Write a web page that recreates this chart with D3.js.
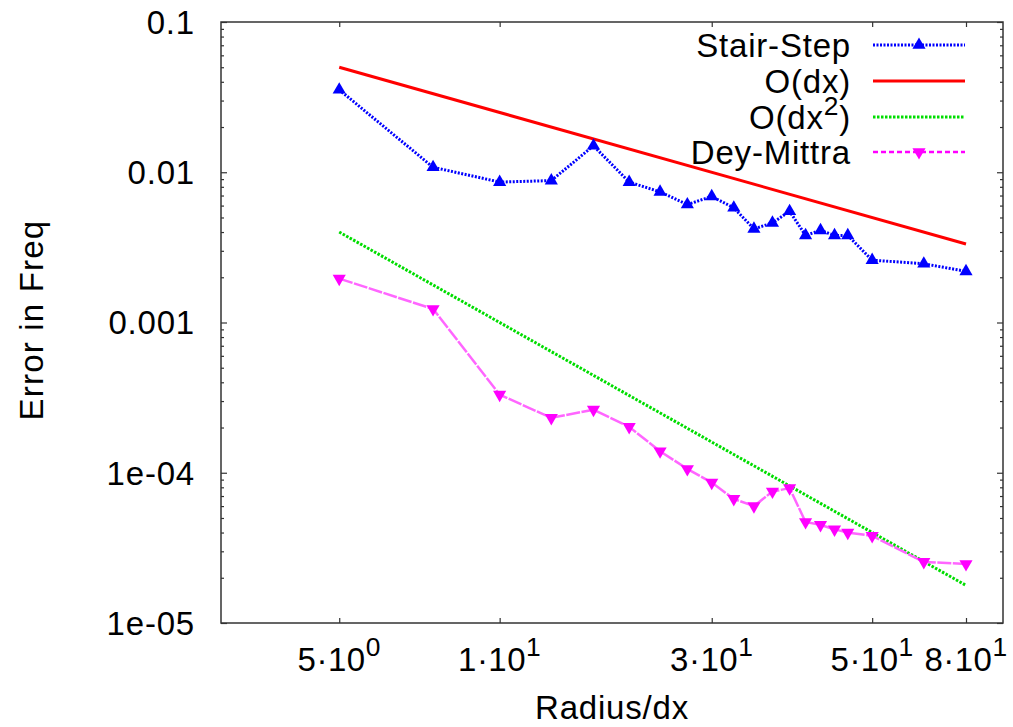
<!DOCTYPE html>
<html>
<head>
<meta charset="utf-8">
<script src="https://cdn.jsdelivr.net/npm/d3@7"></script>
<style>
  html, body { margin: 0; padding: 0; background: #fff; }
  svg { display: block; font-family: "Liberation Sans", Arial, Helvetica, sans-serif; }
</style>
</head>
<body>
<svg id="chart" width="1013" height="727"></svg>
<script>
// Grid resolution (radius measured in cells)
const radius = [5, 7.5, 10, 12.5, 15, 17.5, 20, 22.5, 25, 27.5, 30, 32.5, 35, 37.5, 40, 42.5, 45, 50, 62.5, 75];

// Relative frequency error of each scheme
const stairStep = [0.0354, 0.0108, 0.0086, 0.0088, 0.0150, 0.0086, 0.0074, 0.0061, 0.0069, 0.0058,
                   0.0042, 0.0046, 0.0055, 0.0038, 0.0041, 0.0038, 0.0038, 0.0026, 0.00246, 0.00219];
const deyMittra = [1.96e-3, 1.23e-3, 3.31e-4, 2.32e-4, 2.63e-4, 2.02e-4, 1.39e-4, 1.06e-4, 8.6e-5, 6.7e-5,
                   6.0e-5, 7.5e-5, 7.9e-5, 4.7e-5, 4.5e-5, 4.2e-5, 4.0e-5, 3.8e-5, 2.55e-5, 2.47e-5];

// Reference convergence slopes (straight on log-log axes), given by their end points
const refRadius = [5, 75];
const orderOne = [0.05, 0.00333];
const orderTwo = [0.004, 1.78e-5];

// Axis ticks
const xTickValues = [5, 10, 25, 50, 75];
const xTickMantissa = ["5", "1", "3", "5", "8"];
const xTickExponent = ["0", "1", "1", "1", "1"];
const yTickValues = [0.1, 0.01, 0.001, 1e-4, 1e-5];
const yTickLabels = ["0.1", "0.01", "0.001", "1e-04", "1e-05"];

(function () {
  const svg = d3.select("#chart");
  const pLeft = 221, pRight = 1003, pTop = 22, pBottom = 623;

  const x = d3.scaleLog().domain([3.0, 88]).range([pLeft, pRight]);
  const y = d3.scaleLog().domain([1e-5, 0.1]).range([pBottom, pTop]);

  const FONT = 33;
  const axisColor = "#333";

  // Minor y ticks: 2..9 within each decade
  const yMinor = [];
  for (let e = -5; e < -1; e++) for (let m = 2; m <= 9; m++) yMinor.push(m * Math.pow(10, e));

  function styleAxis(g) {
    g.select(".domain").remove();
    g.selectAll("line").attr("stroke", axisColor).attr("stroke-width", 1.2);
  }

  // Left axis
  svg.append("g").attr("transform", `translate(${pLeft},0)`)
    .call(d3.axisRight(y).tickValues(yTickValues).tickSize(6).tickFormat(""))
    .call(styleAxis);
  svg.append("g").attr("transform", `translate(${pLeft},0)`)
    .call(d3.axisRight(y).tickValues(yMinor).tickSize(3).tickFormat(""))
    .call(styleAxis);
  // Right axis (mirrored)
  svg.append("g").attr("transform", `translate(${pRight},0)`)
    .call(d3.axisLeft(y).tickValues(yTickValues).tickSize(6).tickFormat(""))
    .call(styleAxis);
  svg.append("g").attr("transform", `translate(${pRight},0)`)
    .call(d3.axisLeft(y).tickValues(yMinor).tickSize(3).tickFormat(""))
    .call(styleAxis);
  // Bottom and top axes
  svg.append("g").attr("transform", `translate(0,${pBottom})`)
    .call(d3.axisTop(x).tickValues(xTickValues).tickSize(5).tickFormat(""))
    .call(styleAxis);
  svg.append("g").attr("transform", `translate(0,${pTop})`)
    .call(d3.axisBottom(x).tickValues(xTickValues).tickSize(5).tickFormat(""))
    .call(styleAxis);

  // Frame
  svg.append("rect")
    .attr("x", pLeft).attr("y", pTop)
    .attr("width", pRight - pLeft).attr("height", pBottom - pTop)
    .attr("fill", "none").attr("stroke", axisColor).attr("stroke-width", 1.5);

  // Y tick labels
  svg.append("g").selectAll("text").data(yTickValues).join("text")
    .attr("x", 195).attr("y", d => y(d)).attr("dy", "0.36em")
    .attr("text-anchor", "end").attr("font-size", FONT).attr("letter-spacing", 0.8)
    .attr("fill", "#000")
    .text((d, i) => yTickLabels[i]);

  // X tick labels with superscript exponent
  const xl = svg.append("g").selectAll("text").data(xTickValues).join("text")
    .attr("x", d => x(d)).attr("y", 671)
    .attr("text-anchor", "middle").attr("font-size", FONT).attr("letter-spacing", 0.5)
    .attr("fill", "#000");
  xl.append("tspan").text((d, i) => xTickMantissa[i] + "\u00b710");
  xl.append("tspan").attr("dy", -15).attr("font-size", FONT * 0.8)
    .text((d, i) => xTickExponent[i]);

  // Axis titles
  svg.append("text").attr("x", 612).attr("y", 719)
    .attr("text-anchor", "middle").attr("font-size", FONT).attr("letter-spacing", 0.8)
    .text("Radius/dx");
  svg.append("text")
    .attr("transform", "translate(43,320) rotate(-90)")
    .attr("text-anchor", "middle").attr("font-size", FONT).attr("letter-spacing", 1.2)
    .text("Error in Freq");

  const plot = svg.append("g");
  const line = d3.line().x(d => x(d[0])).y(d => y(d[1]));

  // Series styles
  const series = [
    { name: "Stair-Step", xs: radius, ys: stairStep, color: "#0000ff", width: 3, dash: "2,1.5", marker: "up" },
    { name: "O(dx)", xs: refRadius, ys: orderOne, color: "#ff0000", width: 3, dash: null, marker: null },
    { name: "O(dx2)", xs: refRadius, ys: orderTwo, color: "#00dd00", width: 3, dash: "2.5,1.5", marker: null },
    { name: "Dey-Mittra", xs: radius, ys: deyMittra, color: "#ff66ff", width: 2.5, dash: "14,1.5", marker: "down" }
  ];

  const tri = d3.symbol().type(d3.symbolTriangle).size(75);

  function drawMarker(g, type, color, cx, cy) {
    g.append("path").attr("d", tri())
      .attr("transform", `translate(${cx},${cy})` + (type === "down" ? " rotate(180)" : ""))
      .attr("fill", color);
  }

  // Reference lines under the data
  [series[1], series[2], series[0], series[3]].forEach(s => {
    const pts = s.xs.map((v, i) => [v, s.ys[i]]);
    plot.append("path").datum(pts).attr("d", line)
      .attr("fill", "none").attr("stroke", s.color).attr("stroke-width", s.width)
      .attr("stroke-dasharray", s.dash).attr("stroke-linejoin", "round");
    if (s.marker) {
      pts.forEach(p => drawMarker(plot, s.marker, s.name === "Dey-Mittra" ? "#ff00ff" : s.color, x(p[0]), y(p[1])));
    }
  });

  // Legend
  const legendY = [45, 81, 117, 152];
  const lg = svg.append("g");
  series.forEach((s, i) => {
    const ty = legendY[i];
    const t = lg.append("text").attr("x", 851).attr("y", ty).attr("dy", "0.36em")
      .attr("text-anchor", "end").attr("font-size", FONT).attr("letter-spacing", 0.8);
    if (s.name === "O(dx2)") {
      t.append("tspan").text("O(dx");
      t.append("tspan").attr("dy", -14).attr("font-size", FONT * 0.8).text("2");
      t.append("tspan").attr("dy", 14).text(")");
    } else {
      t.text(s.name);
    }
    lg.append("line").attr("x1", 873).attr("x2", 965).attr("y1", ty).attr("y2", ty)
      .attr("stroke", s.name === "Dey-Mittra" ? "#ff00ff" : s.color).attr("stroke-width", s.width)
      .attr("stroke-dasharray", s.name === "Dey-Mittra" ? "5,3" : s.dash);
    if (s.marker) drawMarker(lg, s.marker, s.name === "Dey-Mittra" ? "#ff00ff" : s.color, 919, ty);
  });
})();
</script>
</body>
</html>
